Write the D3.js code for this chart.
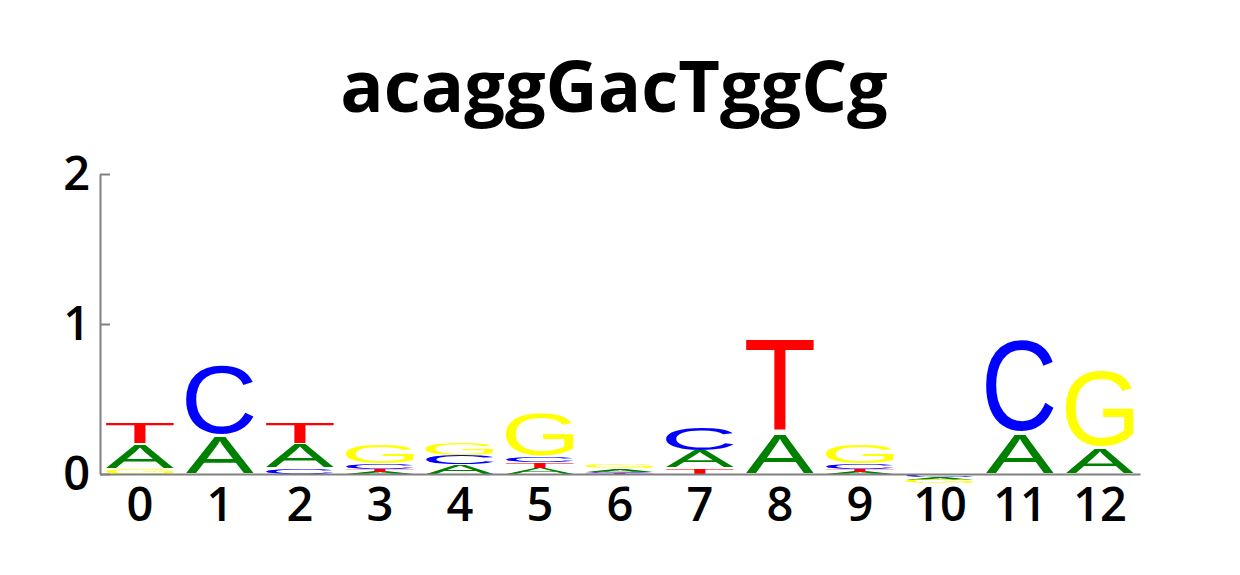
<!DOCTYPE html>
<html>
<head>
  <meta charset="utf-8">
  <title>acaggGacTggCg</title>
  <style>
    body { margin: 0; padding: 0; background: #fff; overflow: hidden; }
    .axis text { font-family: "Open Sans", sans-serif; font-size: 47px; font-weight: 600; fill: #000; }
    .axis path, .axis line { stroke: #808080; stroke-width: 2px; }
  </style>
</head>
<body>
  <svg id="chart" width="1240" height="575"></svg>

  <script src="https://d3js.org/d3.v7.min.js"></script>
  <script>
    // positions and per-position letter stacks (bottom to top), heights in bits
    const positions = [0, 1, 2, 3, 4, 5, 6, 7, 8, 9, 10, 11, 12];
    const pos0 = [['G', 0.035], ['A', 0.165], ['T', 0.15]];
    const pos1 = [['A', 0.255], ['C', 0.485]];
    const pos2 = [['C', 0.04], ['A', 0.16], ['T', 0.15]];
    const pos3 = [['A', 0.015], ['T', 0.02], ['C', 0.035], ['G', 0.133]];
    const pos4 = [['A', 0.065], ['C', 0.06], ['G', 0.087]];
    const pos5 = [['A', 0.04], ['T', 0.035], ['C', 0.04], ['G', 0.298]];
    const pos6 = [['T', 0.008], ['C', 0.008], ['A', 0.02], ['G', 0.025]];
    const pos7 = [['T', 0.04], ['A', 0.115], ['C', 0.158]];
    const pos8 = [['A', 0.27], ['T', 0.63]];
    const pos9 = [['A', 0.015], ['T', 0.02], ['C', 0.035], ['G', 0.133]];
    const pos10 = [['T', -0.008], ['C', -0.015], ['A', -0.015], ['G', -0.025]];
    const pos11 = [['A', 0.27], ['C', 0.63]];
    const pos12 = [['A', 0.17], ['G', 0.53]];
    const stacks = [pos0, pos1, pos2, pos3, pos4, pos5, pos6, pos7, pos8, pos9, pos10, pos11, pos12];
    const yTicks = [0, 1, 2];
    const title = 'acaggGacTggCg';

    const colors = { A: '#008000', C: '#0000ff', G: '#ffff00', T: '#ff0000' };

    const svg = d3.select('#chart');

    const x = d3.scaleBand().domain(positions).range([100, 1140]);
    const y = d3.scaleLinear().domain([0, 2]).range([474, 174]);

    svg.append('text')
      .attr('x', 614).attr('y', 112)
      .attr('text-anchor', 'middle')
      .style('font-family', '"Open Sans", sans-serif')
      .style('font-weight', 'bold')
      .style('font-size', '72px')
      .text(title);

    // measure glyph ink so each letter can be stretched into its box
    const LF = '100px "Liberation Sans", Arial, sans-serif';
    const ctx = document.createElement('canvas').getContext('2d');
    ctx.font = LF;
    const ink = {};
    'ACGT'.split('').forEach(L => {
      const m = ctx.measureText(L);
      ink[L] = { l: m.actualBoundingBoxLeft, r: m.actualBoundingBoxRight,
                 a: m.actualBoundingBoxAscent, d: m.actualBoundingBoxDescent };
    });

    const boxes = [];
    stacks.forEach((st, i) => {
      let up = 0, down = 0;
      st.forEach(([L, v]) => {
        let lo, hi;
        if (v >= 0) { lo = up; hi = up + v; up = hi; }
        else { hi = down; lo = down + v; down = lo; }
        boxes.push({ pos: positions[i], L, lo, hi });
      });
    });

    const lw = x.bandwidth() * 0.85;
    svg.append('g').selectAll('text')
      .data(boxes)
      .join('text')
      .attr('transform', d => {
        const g = ink[d.L];
        const bx = x(d.pos) + (x.bandwidth() - lw) / 2;
        const full = y(d.lo) - y(d.hi);
        const pad = Math.min(2, full * 0.03); // small gap between stacked letters
        const by = y(d.hi) + pad;
        const h = full - 2 * pad;
        const sx = lw / (g.l + g.r), sy = h / (g.a + g.d);
        return `translate(${bx},${by}) scale(${sx},${sy}) translate(${g.l},${g.a})`;
      })
      .style('font', LF)
      .attr('fill', d => colors[d.L])
      .text(d => d.L);

    svg.append('g')
      .attr('class', 'axis')
      .attr('transform', 'translate(100,0)')
      .call(d3.axisLeft(y).tickValues(yTicks).tickFormat(d3.format('d'))
        .tickSizeInner(-10).tickSizeOuter(0).tickPadding(10));

    svg.append('g')
      .attr('class', 'axis')
      .attr('transform', 'translate(0,474)')
      .call(d3.axisBottom(x).tickSize(0).tickPadding(14));
  </script>
</body>
</html>
